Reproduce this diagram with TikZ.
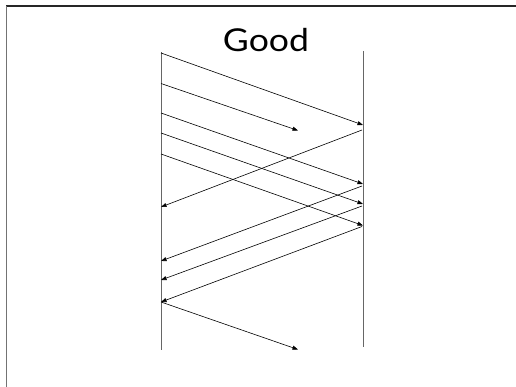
\documentclass[tikz,border=0pt]{standalone}
\usepackage{fontspec}
\setmainfont{Lato}
\usetikzlibrary{arrows.meta}
\begin{document}
\begin{tikzpicture}[x=1pt,y=-1pt,
  lifeline/.style={draw=black!60,line width=1pt},
  msg/.style={draw=black,line width=0.6pt,-{Triangle[length=5.5pt,width=4pt]}},
  frameline/.style={line width=1.3pt}]
\useasboundingbox (0,0) rectangle (516,387);
\draw[frameline,draw=black!85] (6,6) -- (520,6);
\draw[frameline,draw=black!55] (6.5,6) -- (6.5,390);
\node[font=\fontsize{31.5}{31.5}\selectfont,anchor=base,inner sep=0pt,xscale=1.13] (title) at (266,51.7) {Good};
% lifelines
\coordinate (Lt) at (161,52);
\coordinate (Lb) at (161,350);
\coordinate (Rt) at (363,51);
\coordinate (Rb) at (363,347);
\draw[lifeline] (Lt) -- (Lb);
\draw[lifeline] (Rt) -- (Rb);
% send points on left
\coordinate (s1) at (161,53);
\coordinate (s2) at (161,83.5);
\coordinate (s3) at (161,113);
\coordinate (s4) at (161,133);
\coordinate (s5) at (161,154);
\coordinate (s6) at (161,302);
% receive points on right
\coordinate (r1) at (363,125);
\coordinate (r3) at (363,184);
\coordinate (r4) at (363,204);
\coordinate (r5) at (363,225.5);
\coordinate (lost1) at (298,130.5);
\coordinate (lost2) at (298,349.5);
% ack sends on right
\coordinate (a1) at (362,130);
\coordinate (a3) at (362,186);
\coordinate (a4) at (362,206);
\coordinate (a5) at (362,226.5);
% ack receipts on left
\coordinate (k1) at (161,207);
\coordinate (k3) at (161,261);
\coordinate (k4) at (161,280);
\coordinate (k5) at (161,302);
\draw[msg] (s1) -- (r1);
\draw[msg] (s2) -- (lost1);
\draw[msg] (s3) -- (r3);
\draw[msg] (s4) -- (r4);
\draw[msg] (s5) -- (r5);
\draw[msg] (a1) -- (k1);
\draw[msg] (a3) -- (k3);
\draw[msg] (a4) -- (k4);
\draw[msg] (a5) -- (k5);
\draw[msg] (s6) -- (lost2);
\end{tikzpicture}
\end{document}
